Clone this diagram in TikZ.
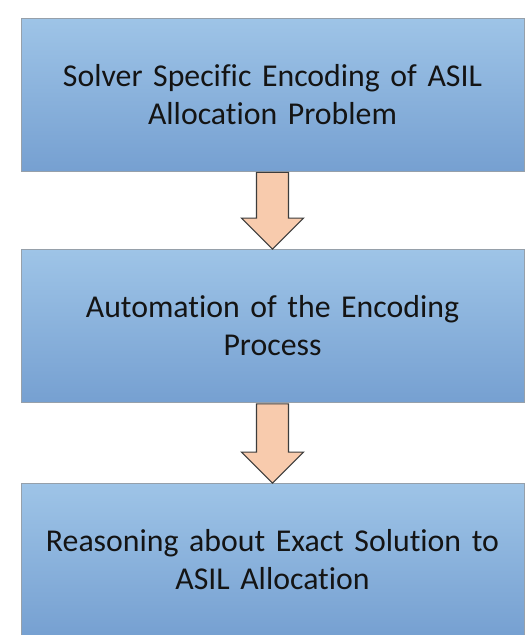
\documentclass[tikz,border=0pt]{standalone}
\usepackage{fontspec}
\setmainfont[Ligatures=NoCommon]{Carlito}
\usetikzlibrary{calc,backgrounds}
\definecolor{boxtop}{RGB}{158,196,231}
\definecolor{boxbot}{RGB}{118,160,209}
\definecolor{boxedge}{RGB}{150,160,170}
\definecolor{glowc}{RGB}{140,185,230}
\definecolor{arrowfill}{RGB}{248,203,173}
\definecolor{arrowedge}{RGB}{60,60,60}
\definecolor{txt}{RGB}{20,20,20}
\tikzset{
  stagebox/.style={rectangle, draw=boxedge, line width=0.8pt,
    top color=boxtop, bottom color=boxbot,
    minimum width=503pt, minimum height=153pt, inner sep=0pt,
    text width=490pt, align=center, text=txt,
    font=\fontsize{31.8}{38}\selectfont},
  blockarrow/.style={fill=arrowfill, draw=arrowedge, line width=1.1pt, line join=miter}
}
\newcommand{\glowbox}[1]{%
  \begin{scope}[on background layer]
  \foreach \d in {9,8,...,1}{
    \fill[glowc, fill opacity=0.1] ($(#1.south west)+(-\d,\d)$) rectangle ($(#1.north east)+(\d,-\d)$);
  }
  \end{scope}}
\newcommand{\downarrowshape}[2]{%
  \draw[blockarrow] ($(#1.south)+(-16,1)$) -- ($(#2.north)+(-16,-31)$) -- ($(#2.north)+(-31,-31)$)
    -- (#2.north) -- ($(#2.north)+(31,-31)$) -- ($(#2.north)+(16,-31)$) -- ($(#1.south)+(16,1)$) -- cycle;}
\begin{document}
\begin{tikzpicture}[x=1pt,y=-1pt]
\useasboundingbox[fill=white] (0,0) rectangle (527,635);
\node[stagebox] (b1) at (272.5,94.5) {Solver Specific Encoding of ASIL\\Allocation Problem};
\node[stagebox] (b2) at (272.5,326) {Automation of the Encoding\\Process};
\node[stagebox] (b3) at (272.5,560) {Reasoning about Exact Solution to\\ASIL Allocation};
\glowbox{b1}
\glowbox{b2}
\glowbox{b3}
\downarrowshape{b1}{b2}
\downarrowshape{b2}{b3}
\end{tikzpicture}
\end{document}
